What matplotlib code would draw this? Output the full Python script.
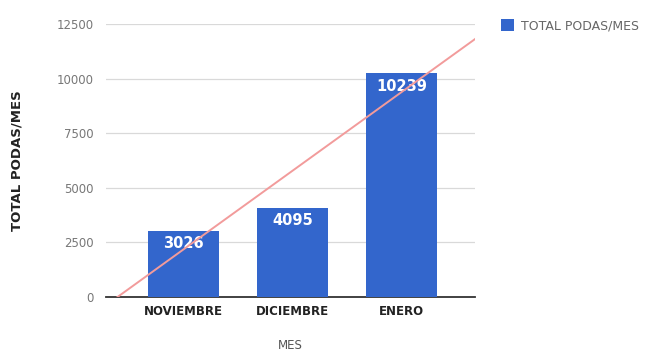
import numpy as np
import matplotlib.pyplot as plt

meses = ['NOVIEMBRE', 'DICIEMBRE', 'ENERO']
podas = [3026, 4095, 10239]
yticks = [0, 2500, 5000, 7500, 10000, 12500]

BLUE = '#3366cc'

fig = plt.figure(figsize=(6.61, 3.56), dpi=100)
ax = fig.add_axes([106/661, 59/356, 369/661, 273/356])

x = np.arange(len(meses))
bars = ax.bar(x, podas, width=0.65, color=BLUE, zorder=3, label='TOTAL PODAS/MES')
for xi, v in zip(x, podas):
    ax.text(xi, v - 250, str(v), ha='center', va='top', color='white',
            fontsize=10.5, fontweight='bold', zorder=4)

# linear trendline
xmin, xmax = -0.71, 2.67
m, b = np.polyfit(x, podas, 1)
xt = np.array([xmin, xmax])
ax.plot(xt, m*xt + b, color='#f29b9b', lw=1.4, zorder=5, clip_on=True)

ax.set_xlim(xmin, xmax)
ax.set_ylim(0, 12500)
ax.set_yticks(yticks)
ax.set_xticks(x)
ax.set_xticklabels(meses, fontsize=8.5, fontweight='bold', color='#222222')
ax.tick_params(axis='y', length=0, labelsize=8.5, labelcolor='#777777', pad=9)
ax.tick_params(axis='x', length=0, pad=6)
ax.grid(axis='y', color='#d9d9d9', lw=0.9, zorder=0)
for s in ['top', 'right', 'left']:
    ax.spines[s].set_visible(False)
ax.spines['bottom'].set_color('#333333')
ax.spines['bottom'].set_linewidth(1.3)

ax.set_ylabel('TOTAL PODAS/MES', fontsize=9.5, fontweight='bold', color='#222222', labelpad=24)
ax.set_xlabel('MES', fontsize=8.5, color='#555555', labelpad=15)

fig.legend(handles=[bars], labels=['TOTAL PODAS/MES'], loc='upper left',
           bbox_to_anchor=(490/661, 1 - 8/356), frameon=False, fontsize=9,
           handlelength=1.0, handleheight=1.0, handletextpad=0.6,
           labelcolor='#666666')

fig.savefig('out.png', dpi=100, facecolor='white')
